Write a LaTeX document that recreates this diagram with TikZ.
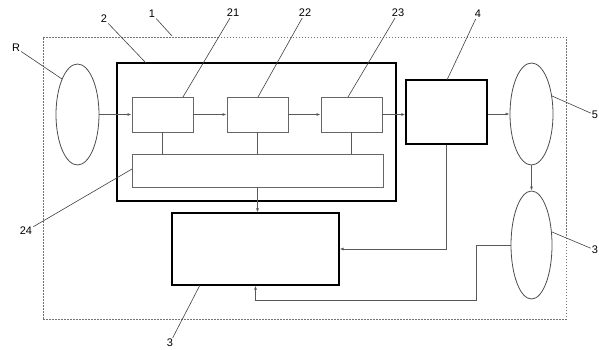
\documentclass[tikz,border=0pt]{standalone}
\usepackage{fontspec}
\setmainfont{Liberation Sans}
\usetikzlibrary{shapes.geometric,arrows.meta}
\begin{document}
\begin{tikzpicture}[x=1pt,y=-1pt,
  thinline/.style={draw=black!65,line width=0.8pt},
  thickbox/.style={draw=black,line width=1.4pt,minimum width=#1,inner sep=0pt},
  smallbox/.style={draw=black!60,line width=0.9pt,inner sep=0pt,minimum height=35pt,minimum width=61pt},
  oval/.style={ellipse,draw=black!70,line width=0.8pt,inner sep=0pt},
  frame/.style={draw=black!55,dashed,dash pattern=on 1.5pt off 1.5pt,line width=0.7pt,inner sep=0pt},
  arr/.style={thinline,-{Latex[length=4pt,width=3pt]}},
  lbl/.style={font=\fontsize{11}{13}\selectfont,inner sep=1pt},
  leader/.style={draw=black!75,line width=0.6pt}]
\useasboundingbox (0,0) rectangle (599,350);
% frame 1
\node[frame,minimum width=523pt,minimum height=282pt] (f1) at (304.5,178) {};
% main block 2
\node[thickbox=279pt,minimum height=138pt] (b2) at (256.5,132) {};
\node[smallbox] (b21) at (162.5,114.5) {};
\node[smallbox] (b22) at (257.5,114.5) {};
\node[smallbox] (b23) at (351.5,114.5) {};
\node[smallbox,minimum width=251pt,minimum height=33pt] (b24) at (257.5,170.5) {};
% block 4
\node[thickbox=81pt,minimum height=64pt] (b4) at (446.5,112) {};
% block 3
\node[thickbox=167pt,minimum height=72pt,line width=1.2pt] (b3) at (255.5,249) {};
% ellipses
\node[oval,minimum width=43pt,minimum height=101pt] (eR) at (77.5,114.5) {};
\node[oval,minimum width=43pt,minimum height=102pt] (e5) at (531.5,114) {};
\node[oval,minimum width=41pt,minimum height=108pt] (e3) at (531.5,245) {};
% connectors
\draw[arr] (eR.east) -- (b21.west);
\draw[arr] (b21.east) -- (b22.west);
\draw[arr] (b22.east) -- (b23.west);
\draw[arr] (b23.east) -- (b4.west |- b23.east);
\draw[arr] (b4.east |- e5.west) -- (e5.west);
\draw[arr] (e5.south) -- (e3.north);
\draw[thinline] (b21.south) -- (b21.south |- b24.north);
\draw[thinline] (b22.south) -- (b22.south |- b24.north);
\draw[thinline] (b23.south) -- (b23.south |- b24.north);
\draw[arr] (b24.south) -- (b24.south |- b3.north);
\draw[arr] (b4.south) |- (b3.east);
\coordinate (c1) at (476,300);
\draw[arr] (e3.west) -| (c1) -| (b3.south);
% labels
\node[lbl] (l1) at (152,14) {1};
\node[lbl] (l2) at (104,19) {2};
\node[lbl] (l21) at (233,13) {21};
\node[lbl] (l22) at (305,13) {22};
\node[lbl] (l23) at (398,13) {23};
\node[lbl] (l4) at (478,14) {4};
\node[lbl] (l5) at (595,115) {5};
\node[lbl] (l3r) at (595,250) {3};
\node[lbl] (lR) at (16,48) {R};
\node[lbl] (l24) at (26,231) {24};
\node[lbl] (l3b) at (170,343) {3};
\coordinate (t1) at (172,36);
\coordinate (t2) at (146,63);
\coordinate (t21) at (183,97);
\coordinate (t22) at (258,97);
\coordinate (t23) at (348,97);
\coordinate (t4) at (447,80);
\coordinate (t5) at (552,96);
\coordinate (t3r) at (552,232);
\coordinate (tR) at (62,79);
\coordinate (t24) at (132,169);
\coordinate (t3b) at (200,285);
\draw[leader] (l1) -- (t1);
\draw[leader] (l2) -- (t2);
\draw[leader] (l21) -- (t21);
\draw[leader] (l22) -- (t22);
\draw[leader] (l23) -- (t23);
\draw[leader] (l4) -- (t4);
\draw[leader] (l5) -- (t5);
\draw[leader] (l3r) -- (t3r);
\draw[leader] (lR) -- (tR);
\draw[leader] (l24) -- (t24);
\draw[leader] (l3b) -- (t3b);
\end{tikzpicture}
\end{document}
